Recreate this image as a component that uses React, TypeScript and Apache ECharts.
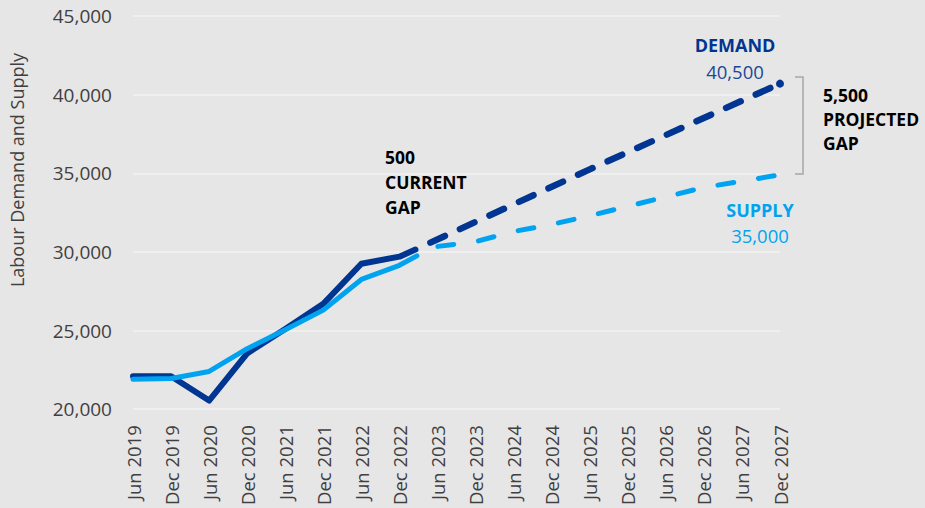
import React, { useEffect, useRef } from "react";
import * as echarts from "echarts";

const categories = [
  "Jun 2019", "Dec 2019", "Jun 2020", "Dec 2020", "Jun 2021", "Dec 2021",
  "Jun 2022", "Dec 2022", "Jun 2023", "Dec 2023", "Jun 2024", "Dec 2024",
  "Jun 2025", "Dec 2025", "Jun 2026", "Dec 2026", "Jun 2027", "Dec 2027",
];

// [category index, value]
const demandActual: [number, number][] = [
  [0, 22100], [1, 22100], [2, 20550], [3, 23550], [4, 25100], [5, 26700],
  [6, 29250], [7, 29700], [7.42, 30150],
];
const supplyActual: [number, number][] = [
  [0, 21900], [1, 21950], [2, 22400], [3, 23850], [4, 25050], [5, 26300],
  [6, 28250], [7, 29150], [7.46, 29750],
];
const demandProjected: [number, number][] = [
  [7.42, 30150], [12, 35250], [17, 40700],
];
const supplyProjected: [number, number][] = [
  [7.46, 29750], [8, 30350], [9, 30650], [10, 31300], [11, 31750], [12, 32300],
  [13, 32900], [14, 33500], [15, 34100], [16, 34500], [17, 34900],
];

const yMin = 20000;
const yMax = 45000;
const yStep = 5000;

const DEMAND = "#003591";
const SUPPLY = "#00a3ef";
const FONT = "'Open Sans', sans-serif";

export default function App() {
  const ref = useRef<HTMLDivElement>(null);

  useEffect(() => {
    if (!ref.current) return;
    const chart = echarts.init(ref.current, null, { renderer: "svg" });
    const lastIdx = demandProjected.length - 1;
    chart.setOption({
      animation: false,
      backgroundColor: "#e7e6e6",
      textStyle: { fontFamily: FONT },
      grid: { left: 133, right: 145, top: 16, bottom: 97, containLabel: false },
      xAxis: {
        type: "value",
        min: 0,
        max: categories.length - 1,
        interval: 1,
        axisLine: { show: false },
        axisTick: { show: false },
        splitLine: { show: false },
        axisLabel: {
          rotate: 90,
          margin: 16,
          fontSize: 18.5,
          color: "#404040",
          fontFamily: FONT,
          padding: [8, 0, 0, 0],
          formatter: (v: number) => categories[Math.round(v)] ?? "",
        },
      },
      yAxis: {
        type: "value",
        min: yMin,
        max: yMax,
        interval: yStep,
        axisLine: { show: false },
        axisTick: { show: false },
        splitLine: { lineStyle: { color: "#f2f2f2", width: 1.5 } },
        axisLabel: {
          margin: 21,
          fontSize: 19,
          color: "#404040",
          fontFamily: FONT,
          formatter: (v: number) => v.toLocaleString("en-US"),
        },
      },
      series: [
        {
          type: "line",
          name: "Demand",
          data: demandActual,
          symbol: "none",
          lineStyle: { color: DEMAND, width: 6, cap: "round", join: "round" },
          itemStyle: { color: DEMAND },
          z: 2,
        },
        {
          type: "line",
          name: "Demand projected",
          data: demandProjected.map((d, i) =>
            i === lastIdx
              ? { value: d, symbol: "circle", symbolSize: 8 }
              : { value: d }
          ),
          symbol: "none",
          lineStyle: {
            color: DEMAND,
            width: 6.5,
            type: [16, 16.5],
            dashOffset: 16,
            cap: "round",
            join: "round",
          },
          itemStyle: { color: DEMAND },
          z: 2,
        },
        {
          type: "line",
          name: "Supply",
          data: supplyActual,
          symbol: "none",
          lineStyle: { color: SUPPLY, width: 5, cap: "round", join: "round" },
          itemStyle: { color: SUPPLY },
          z: 3,
        },
        {
          type: "line",
          name: "Supply projected",
          data: supplyProjected,
          symbol: "none",
          lineStyle: {
            color: SUPPLY,
            width: 5,
            type: [16, 25],
            dashOffset: 18,
            cap: "round",
            join: "round",
          },
          itemStyle: { color: SUPPLY },
          z: 3,
        },
      ],
      graphic: [
        {
          type: "text",
          x: 17,
          y: 170,
          rotation: Math.PI / 2,
          style: {
            text: "Labour Demand and Supply",
            fontFamily: FONT,
            fontSize: 18,
            fill: "#404040",
            align: "center",
            verticalAlign: "middle",
          },
        },
        {
          type: "text",
          x: 735,
          y: 45,
          style: {
            text: "DEMAND",
            fontFamily: FONT,
            fontSize: 18,
            fontWeight: "bold",
            fill: DEMAND,
            align: "center",
            verticalAlign: "middle",
          },
        },
        {
          type: "text",
          x: 735,
          y: 71,
          style: {
            text: "40,500",
            fontFamily: FONT,
            fontSize: 18.5,
            fill: "#1a4697",
            align: "center",
            verticalAlign: "middle",
          },
        },
        {
          type: "text",
          x: 760,
          y: 210,
          style: {
            text: "SUPPLY",
            fontFamily: FONT,
            fontSize: 18,
            fontWeight: "bold",
            fill: SUPPLY,
            align: "center",
            verticalAlign: "middle",
          },
        },
        {
          type: "text",
          x: 760,
          y: 235,
          style: {
            text: "35,000",
            fontFamily: FONT,
            fontSize: 18.5,
            fill: SUPPLY,
            align: "center",
            verticalAlign: "middle",
          },
        },
        {
          type: "text",
          x: 823,
          y: 83,
          style: {
            text: "5,500\nPROJECTED\nGAP",
            fontFamily: FONT,
            fontSize: 17.5,
            fontWeight: "bold",
            fill: "#000000",
            lineHeight: 24,
            align: "left",
            verticalAlign: "top",
          },
        },
        {
          type: "text",
          x: 385,
          y: 144,
          style: {
            text: "500\nCURRENT\nGAP",
            fontFamily: FONT,
            fontSize: 17.5,
            fontWeight: "bold",
            fill: "#000000",
            lineHeight: 25,
            align: "left",
            verticalAlign: "top",
          },
        },
        {
          type: "polyline",
          shape: {
            points: [
              [795, 77],
              [803, 77],
              [803, 174],
              [795, 174],
            ],
          },
          style: { stroke: "#a6a6a6", lineWidth: 1.5, fill: "none" },
        },
      ],
    });
    return () => chart.dispose();
  }, []);

  return (
    <div
      ref={ref}
      style={{ position: "fixed", left: 0, top: 0, width: 925, height: 508 }}
    />
  );
}
